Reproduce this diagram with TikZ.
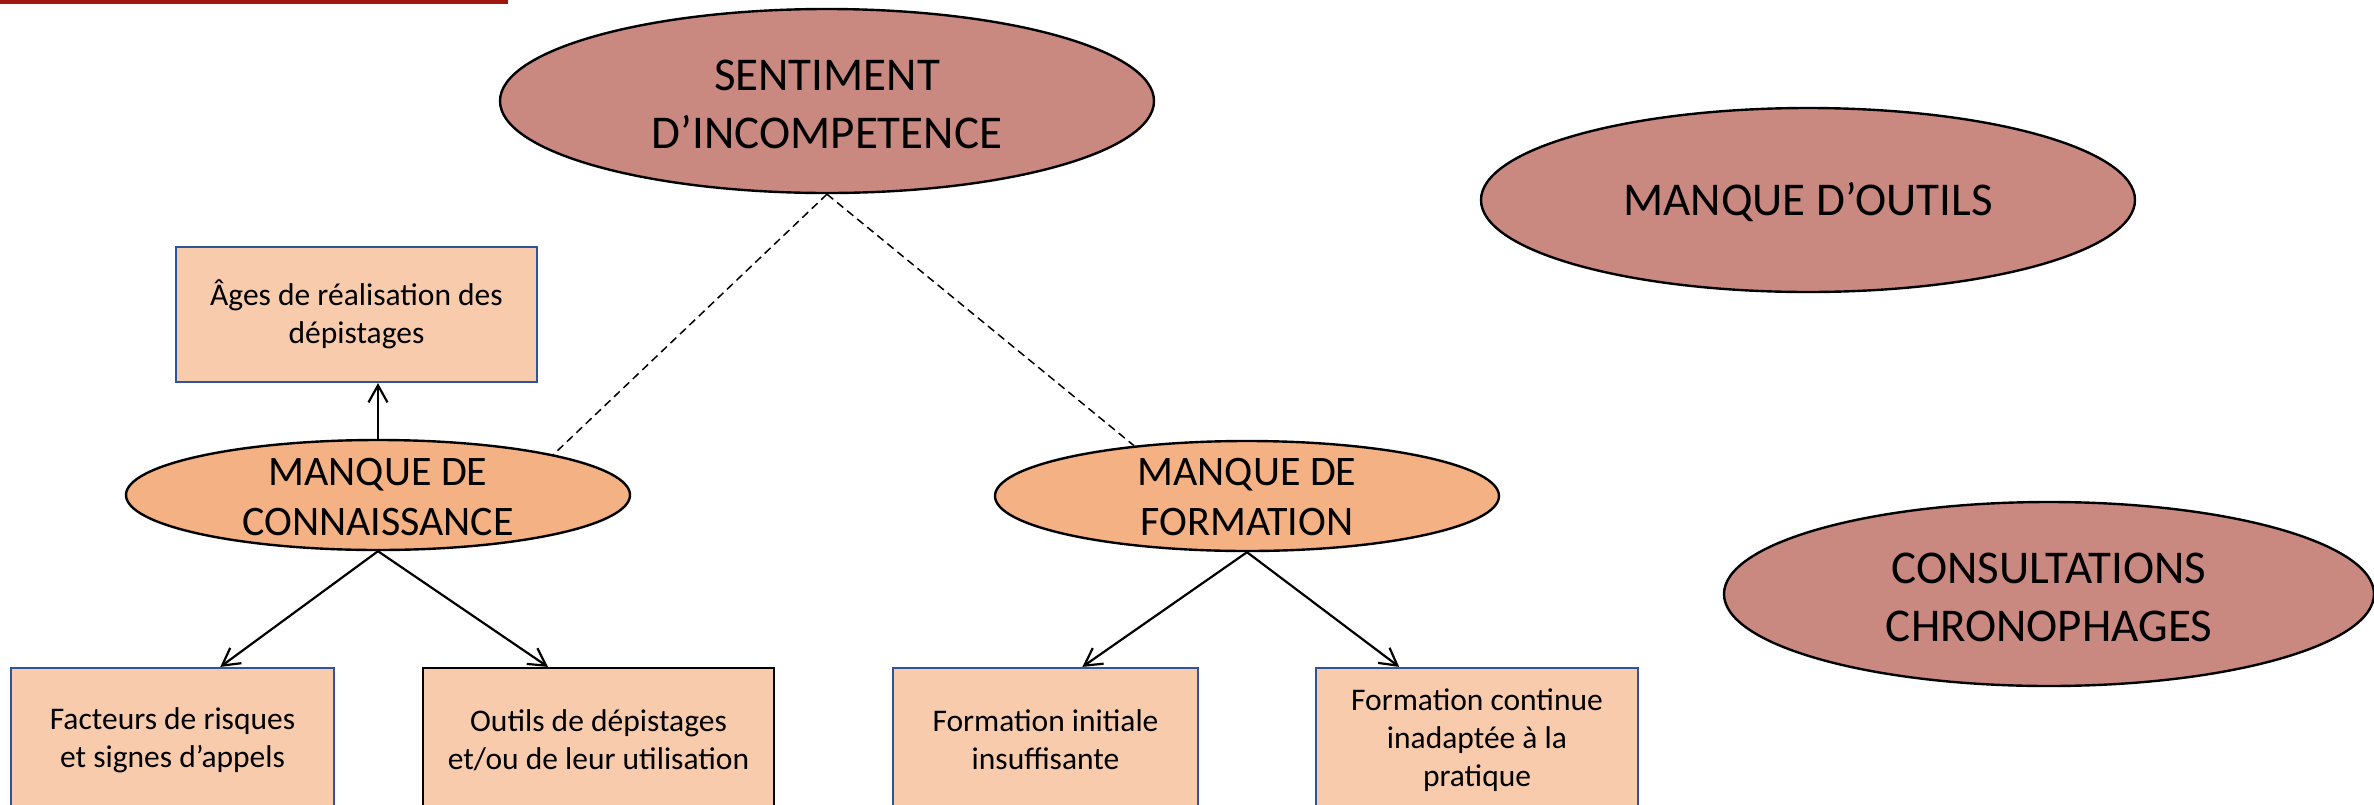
\documentclass[tikz,border=0pt]{standalone}
\usepackage{fontspec}
\setmainfont{Carlito}
\usetikzlibrary{shapes.geometric,arrows.meta,calc}
\definecolor{redfill}{HTML}{C98880}
\definecolor{orangefill}{HTML}{F4B183}
\definecolor{boxfill}{HTML}{F8CBAD}
\definecolor{boxblue}{HTML}{2F5597}
\definecolor{topred}{HTML}{A0170E}
\begin{document}
\begin{tikzpicture}[x=0.5pt,y=-0.5pt,
  bigoval/.style={ellipse, draw=black, line width=1.2pt, fill=redfill, minimum width=327pt, minimum height=92pt, inner sep=0pt},
  midoval/.style={ellipse, draw=black, line width=1.2pt, fill=orangefill, minimum width=252pt, minimum height=55pt, inner sep=0pt},
  bigtext/.style={align=center, font=\fontsize{23.5}{29}\selectfont, inner sep=0pt},
  midtext/.style={align=center, font=\fontsize{21}{25}\selectfont, inner sep=0pt},
  leaf/.style={rectangle, draw=boxblue, line width=1.1pt, fill=boxfill, align=center, font=\fontsize{15.75}{19}\selectfont, inner sep=0pt},
  link/.style={line width=1.1pt, -{Straight Barb[length=8.5pt,width=9.5pt,line width=1.1pt]}},
  tie/.style={dash pattern=on 4pt off 2.5pt, line width=0.75pt}]
\useasboundingbox (0,0) rectangle (2374,804);
\clip (0,0) rectangle (2374,804);

% top red rule
\fill[topred] (0,0) rectangle (508,4);

% ellipses
\node[bigoval] (sent) at (827,101) {};
\node[bigtext] (sentt) at (827,104) {SENTIMENT\\D’INCOMPETENCE};
\node[bigoval] (outil) at (1808,200) {};
\node[bigtext] (outilt) at (1808,202) {MANQUE D’OUTILS};
\node[bigoval, minimum width=325pt] (consult) at (2049,594) {};
\node[bigtext] (consultt) at (2049,597) {CONSULTATIONS\\CHRONOPHAGES};
\node[midoval] (conn) at (378,495) {};
\node[midtext] (connt) at (378,497) {MANQUE DE\\CONNAISSANCE};
\node[midoval] (form) at (1247,496) {};
\node[midtext] (formt) at (1247,497) {MANQUE DE\\FORMATION};

% boxes
\node[leaf, minimum width=180.5pt, minimum height=67.5pt] (ages) at (356.5,314.5) {Âges de réalisation des\\dépistages};
\node[leaf, minimum width=161.5pt, minimum height=72pt] (fact) at (172.5,740) {Facteurs de risques\\et signes d’appels};
\node[leaf, draw=black, minimum width=175.5pt, minimum height=72pt] (outl) at (598.5,740) {Outils de dépistages\\et/ou de leur utilisation};
\node[leaf, minimum width=152.5pt, minimum height=72pt] (fini) at (1045.5,740) {Formation initiale\\insuffisante};
\node[leaf, minimum width=161pt, minimum height=72pt] (fcont) at (1477,740) {Formation continue\\inadaptée à la\\pratique};

% connectors
\draw[tie] (sent.south) -- (conn.13);
\draw[tie] (sent.south) -- (form.156);
\draw[link] (conn.north) -- (conn.north |- ages.south);
\draw[link] (conn.south) -- ($(fact.north west)!0.647!(fact.north east)$);
\draw[link] (conn.south) -- ($(outl.north west)!0.357!(outl.north east)$);
\draw[link] (form.south) -- ($(fini.north west)!0.62!(fini.north east)$);
\draw[link] (form.south) -- ($(fcont.north west)!0.26!(fcont.north east)$);
\end{tikzpicture}
\end{document}
